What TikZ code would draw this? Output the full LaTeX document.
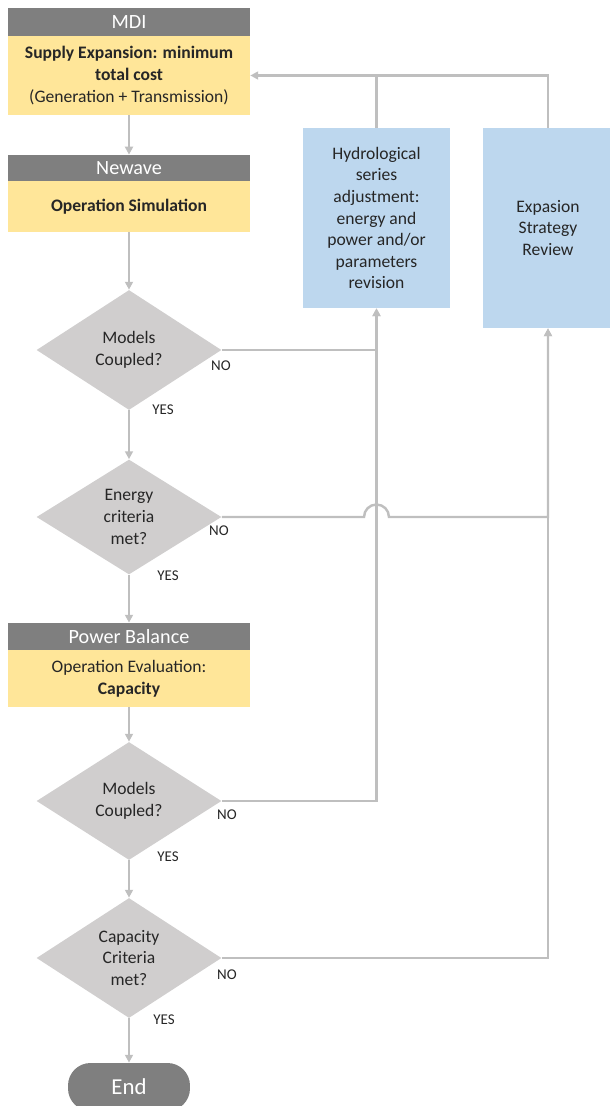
\documentclass[tikz,border=0pt]{standalone}
\usepackage{fontspec}
\setmainfont{Carlito}
\usetikzlibrary{shapes.geometric}
\usetikzlibrary{arrows.meta}
\definecolor{hdrgray}{RGB}{127,127,127}
\definecolor{boxyellow}{RGB}{255,230,153}
\definecolor{boxblue}{RGB}{189,215,238}
\definecolor{decgray}{RGB}{208,206,206}
\definecolor{wiregray}{RGB}{191,191,191}

\begin{document}
\begin{tikzpicture}[x=0.02cm,y=-0.02cm,
    hdr/.style={fill=hdrgray,text=white,inner sep=0pt,minimum width=4.84cm,
        font=\fontsize{11.5}{13}\selectfont},
    ybox/.style={fill=boxyellow,text=black!85,inner sep=0pt,minimum width=4.84cm,
        align=center,font=\fontsize{10}{12.3}\selectfont},
    bbox/.style={fill=boxblue,text=black!85,inner sep=0pt,align=center,
        font=\fontsize{10}{12.3}\selectfont},
    dec/.style={diamond,fill=decgray,text=black!85,inner sep=0pt,
        minimum width=3.7cm,align=center,font=\fontsize{10}{12.3}\selectfont},
    lbl/.style={text=black!85,font=\fontsize{8.5}{10}\selectfont},
    wire/.style={draw=wiregray,line width=1.4pt},
    conn/.style={wire,-{Triangle[length=4.5pt,width=4.5pt]}}]
    \useasboundingbox (0,0) rectangle (609,1106);

    \node[hdr,minimum height=0.56cm] (mdih) at (129,22) {MDI};
    \node[ybox,minimum height=1.58cm] (mdi) at (129,75.5)
        {\textbf{Supply Expansion: minimum}\\\textbf{total cost}\\(Generation + Transmission)};
    \node[hdr,minimum height=0.52cm] (nwh) at (129,168) {Newave};
    \node[ybox,minimum height=1.02cm] (nw) at (129,206.5)
        {\textbf{Operation Simulation}};
    \node[dec,minimum height=2.4cm] (d1) at (129,350) {Models\\Coupled?};
    \node[dec,minimum height=2.3cm] (d2) at (129,517) {Energy\\criteria\\met?};
    \node[hdr,minimum height=0.54cm] (pbh) at (129,636.5) {Power Balance};
    \node[ybox,minimum height=1.14cm] (pb) at (129,678.5)
        {Operation Evaluation:\\\textbf{Capacity}};
    \node[dec,minimum height=2.36cm] (d3) at (129,801) {Models\\Coupled?};
    \node[dec,minimum height=2.4cm] (d4) at (129,958) {Capacity\\Criteria\\met?};
    \node[fill=hdrgray,text=white,rounded corners=0.45cm,minimum width=2.44cm,
        minimum height=0.96cm,font=\fontsize{13}{15}\selectfont] (end) at (129,1087) {End};

    \node[bbox,minimum width=2.94cm,minimum height=3.6cm] (hyd) at (376.5,218)
        {Hydrological\\series\\adjustment:\\energy and\\power and/or\\parameters\\revision};
    \node[bbox,minimum width=2.6cm,minimum height=4cm] (exp) at (548,228)
        {Expasion\\Strategy\\Review};

    \node[lbl] (no1) at (221,366) {NO};
    \node[lbl] (yes1) at (163,410) {YES};
    \node[lbl] (no2) at (219,531) {NO};
    \node[lbl] (yes2) at (168,576) {YES};
    \node[lbl] (no3) at (227,815) {NO};
    \node[lbl] (yes3) at (168,857) {YES};
    \node[lbl] (no4) at (227,975) {NO};
    \node[lbl] (yes4) at (164,1020) {YES};

    \draw[conn] (mdi) -- (nwh);
    \draw[conn] (nw) -- (d1);
    \draw[conn] (d1) -- (d2);
    \draw[conn] (d2) -- (pbh);
    \draw[conn] (pb) -- (d3);
    \draw[conn] (d3) -- (d4);
    \draw[conn] (d4) -- (end);

    \draw[wire] (hyd.north) -- (hyd.north |- mdi.east);
    \draw[conn] (exp.north) |- (mdi.east);
    \draw[conn] (d1.east) -| (hyd.south);
    \draw[conn] (d3.east) -| (hyd.south);
    \coordinate (hop) at (hyd.south |- d2.east);
    \draw[conn] (d2.east) -- ([xshift=-0.25cm]hop)
        arc[start angle=180,end angle=0,radius=0.25cm] -| (exp.south);
    \draw[conn] (d4.east) -| (exp.south);
\end{tikzpicture}
\end{document}
